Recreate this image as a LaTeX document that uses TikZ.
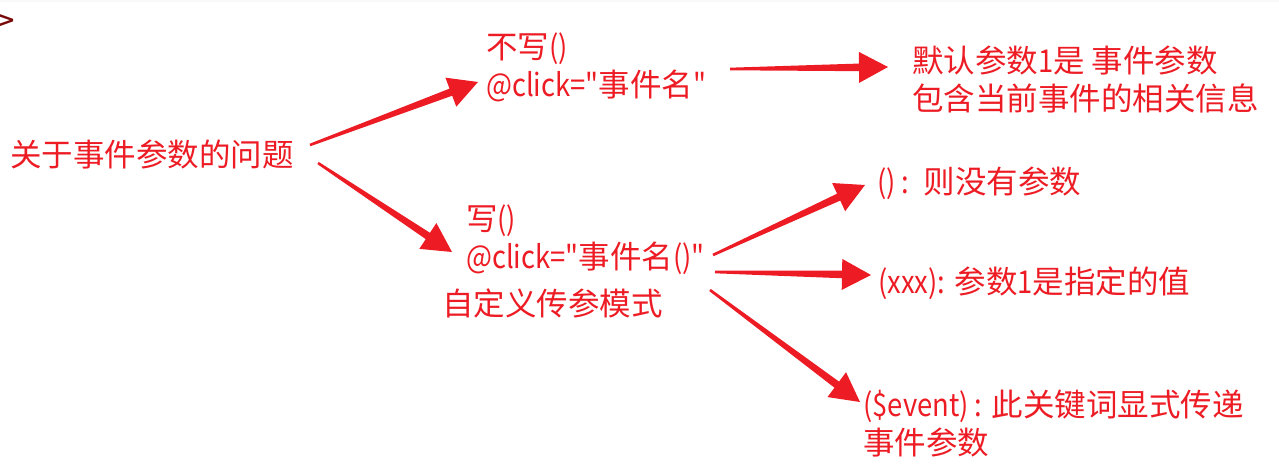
\documentclass[tikz,border=0pt]{standalone}
\usepackage{fontspec}
\newfontfamily\cjk{Noto Sans CJK SC}
\newfontfamily\narrowlatin[FakeStretch=0.87]{Noto Sans CJK SC}
\newfontfamily\markfont{DejaVu Sans}
\newcommand{\asc}[1]{{\narrowlatin #1}}
\usetikzlibrary{calc}

\definecolor{notered}{RGB}{237,28,36}
\definecolor{markbrown}{RGB}{120,10,10}

\newcommand{\fatarrow}[2]{%
  \fill[notered] ($(#1)!1.3pt!90:(#2)$)
    -- ($(#2)!29pt!(#1)!3.8pt!90:(#2)$)
    -- ($(#2)!29pt!(#1)!15.5pt!90:(#2)$)
    -- (#2)
    -- ($(#2)!29pt!(#1)!15.5pt!-90:(#2)$)
    -- ($(#2)!29pt!(#1)!3.8pt!-90:(#2)$)
    -- ($(#1)!1.3pt!-90:(#2)$) -- cycle;}

\begin{document}
\begin{tikzpicture}[x=1pt, y=-1pt,
  note/.style={text=notered, font=\cjk\fontsize{31.5}{38}\selectfont,
    inner sep=0pt, align=left, anchor=base west}]

  \useasboundingbox (0,0) rectangle (1279,470);
  \fill[gray!5] (0,0) rectangle (1279,2);

  \node[text=markbrown, font=\markfont\bfseries\fontsize{22}{22}\selectfont,
    anchor=base west, inner sep=0pt] (mark) at (-3,28) {>};

  \node[note] (q) at (10,167) {关于事件参数的问题};

  \node[note] (nowrite) at (486,97) {不写\asc{()}\\\asc{@click="}事件名\asc{"}};
  \node[note] (dflt) at (912,111) {默认参数\asc{1}是 事件参数\\包含当前事件的相关信息};

  \node[note] (write) at (466,269) {写\asc{()}\\\asc{@click="}事件名\asc{()"}};
  \node[note] (custom) at (442,315) {自定义传参模式};

  \node[note] (noargs) at (877,194) {\asc{() :}~~则没有参数};
  \node[note] (given) at (878,294) {\asc{(xxx):} 参数\asc{1}是指定的值};
  \node[note] (evt) at (863,454) {\asc{(\$event) :} 此关键词显式传递\\事件参数};

  % arrow ends
  \coordinate (q_up) at (310,145);
  \coordinate (nowrite_in) at (478,82);
  \coordinate (q_down) at (318,163);
  \coordinate (write_in) at (452,252);
  \coordinate (nowrite_out) at (730,69);
  \coordinate (dflt_in) at (888,67);
  \coordinate (write_out1) at (713,255);
  \coordinate (noargs_in) at (865,185);
  \coordinate (write_out2) at (715,272);
  \coordinate (given_in) at (871,275);
  \coordinate (write_out3) at (710,290);
  \coordinate (evt_in) at (860,402);

  \fatarrow{q_up}{nowrite_in}
  \fatarrow{q_down}{write_in}
  \fatarrow{nowrite_out}{dflt_in}
  \fatarrow{write_out1}{noargs_in}
  \fatarrow{write_out2}{given_in}
  \fatarrow{write_out3}{evt_in}

\end{tikzpicture}
\end{document}
